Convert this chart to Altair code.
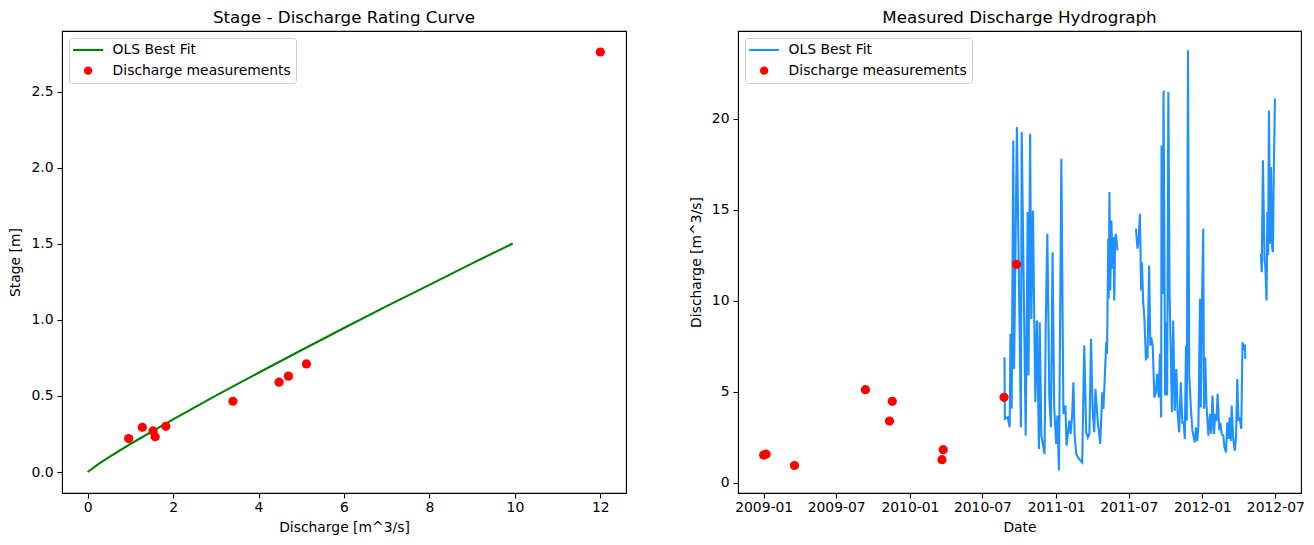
import altair as alt
import pandas as pd

# ---------------- data ----------------
# Rating curve (OLS best fit): discharge [m^3/s] vs stage [m]
fit_discharge = [0, 0.25, 0.5, 1, 2, 3, 4, 5, 6, 7, 8, 9, 9.95]
fit_stage = [0, 0.052, 0.097, 0.184, 0.346, 0.502, 0.652, 0.800, 0.946, 1.090, 1.230, 1.371, 1.502]

# Discharge measurements
meas_date = ["2009-01-01", "2009-01-07", "2009-03-19", "2009-09-12", "2009-11-11",
             "2009-11-18", "2010-03-25", "2010-03-22", "2010-08-24", "2010-09-24"]
meas_discharge = [1.53, 1.58, 0.96, 5.12, 3.40, 4.48, 1.83, 1.28, 4.70, 12.0]
meas_stage = [0.27, 0.232, 0.22, 0.71, 0.465, 0.59, 0.30, 0.294, 0.63, 2.76]

# Hydrograph (OLS best fit), days counted from base_date, three continuous segments
base_date = "2009-01-01"
seg1_day = [601, 602, 609, 614, 616, 619, 623, 625, 632, 642, 644, 654, 659, 661, 665, 668,
            672, 678, 682, 687, 689, 693, 701, 704, 708, 713, 717, 721, 725, 730, 733, 737,
            743, 748, 753, 756, 763, 766, 770, 773, 776, 780, 786, 795, 800, 805, 809, 813,
            817, 821, 825, 828, 834, 840, 845, 848, 855, 857, 860, 861, 863, 865, 868, 870,
            873, 875, 877, 879, 883]
seg1_q = [6.90, 3.52, 3.6, 3.06, 8.19, 4.07, 18.8, 6.26, 19.54, 3.06, 19.26, 2.6, 14.87, 5.9,
          19.17, 9.0, 14.96, 4.43, 8.92, 1.87, 8.82, 2.6, 1.59, 8.82, 13.68, 4.62, 3.06, 12.67,
          4.25, 2.14, 3.7, 0.68, 17.8, 3.79, 4.25, 2.05, 3.42, 2.69, 3.79, 5.53, 2.69, 1.59,
          1.35, 1.13, 7.54, 2.78, 2.5, 2.7, 7.91, 4.07, 2.78, 5.16, 3.33, 2.14, 4.98, 4.07,
          7.73, 7.09, 13.41, 10.11, 15.97, 10.57, 14.41, 11.76, 13.5, 10.02, 13.22, 13.68, 12.76]
seg2_day = [929, 933, 936, 939, 942, 944, 947, 950, 954, 958, 962, 965, 967, 971, 975, 979,
            982, 986, 989, 992, 993, 996, 998, 1002, 1004, 1007, 1010, 1013, 1019, 1022, 1026,
            1030, 1033, 1037, 1041, 1045, 1048, 1051, 1054, 1056, 1059, 1062, 1066, 1070, 1076,
            1079, 1082, 1085, 1089, 1091, 1094, 1097, 1099, 1102, 1105, 1110, 1114, 1117, 1120,
            1124, 1127, 1130, 1133, 1137, 1140, 1143, 1147, 1150, 1154, 1157, 1160, 1163, 1166,
            1168, 1172, 1176, 1179, 1182, 1185, 1188, 1192, 1195, 1198, 1201, 1202]
seg2_q = [13.96, 12.86, 13.4, 14.78, 10.57, 12.12, 10.0, 9.1, 6.81, 6.9, 11.94, 7.54, 8.0,
          7.54, 4.7, 5.0, 5.99, 4.7, 7.09, 3.6, 18.53, 10.38, 21.55, 4.8, 8.82, 4.8, 21.46,
          10.38, 3.88, 8.92, 3.97, 6.26, 3.9, 2.78, 5.53, 3.24, 3.4, 2.42, 7.54, 3.42, 23.75,
          5.99, 4.2, 2.87, 2.23, 3.06, 2.3, 3.1, 10.11, 4.15, 10.0, 13.96, 4.07, 6.9, 4.3, 2.6,
          3.79, 2.7, 4.8, 2.69, 3.79, 3.4, 4.89, 2.9, 3.3, 2.69, 2.6, 1.96, 1.68, 3.33, 2.42,
          3.6, 2.3, 4.25, 2.4, 1.77, 2.6, 5.71, 3.42, 3.6, 2.97, 7.73, 7.3, 7.6, 6.81]
seg3_day = [1241, 1243, 1246, 1250, 1252, 1255, 1257, 1259, 1261, 1264, 1266, 1269, 1271,
            1273, 1276]
seg3_q = [12.58, 11.57, 17.71, 12.21, 11.9, 10.02, 14.87, 12.5, 20.45, 13.13, 17.34, 12.9,
          12.67, 17.0, 21.1]

series_names = ["OLS Best Fit", "Discharge measurements"]

# ---------------- tables ----------------
fit_df = pd.DataFrame({"discharge": fit_discharge, "stage": fit_stage})
meas_df = pd.DataFrame({
    "date": pd.to_datetime(meas_date),
    "discharge": meas_discharge,
    "stage": meas_stage,
    "series": series_names[1],
})
flow_parts = []
for seg, (days, qs) in enumerate([(seg1_day, seg1_q), (seg2_day, seg2_q), (seg3_day, seg3_q)]):
    flow_parts.append(pd.DataFrame({
        "date": pd.Timestamp(base_date) + pd.to_timedelta(days, unit="D"),
        "discharge": qs,
        "segment": seg,
    }))
flow_df = pd.concat(flow_parts, ignore_index=True)

# ---------------- styling ----------------
FONT = "DejaVu Sans"
GREEN = "#008000"
BLUE = "#1e90ff"
RED = "#ff0000"
LINE_SYMBOL = "M-3.6,-0.25L3.6,-0.25L3.6,0.25L-3.6,0.25Z"
LABEL_SIZE = 13.9


def axis(title, values, fmt=None, title_pad=7, label_pad=2):
    kw = dict(title=title, values=values, grid=False, domain=False, ticks=True,
              tickSize=5, tickWidth=1.1, tickColor="black",
              labelFont=FONT, labelFontSize=LABEL_SIZE, labelColor="black",
              labelPadding=label_pad, titleFont=FONT, titleFontSize=LABEL_SIZE,
              titleFontWeight="normal", titleColor="black", titlePadding=title_pad)
    if fmt:
        kw["format"] = fmt
    return alt.Axis(**kw)


def legend():
    return alt.Legend(title=None, orient="top-left", offset=7, padding=5,
                      strokeColor="#cccccc", fillColor="rgba(255,255,255,0.8)",
                      cornerRadius=3, labelFont=FONT, labelFontSize=LABEL_SIZE,
                      labelColor="black", symbolSize=70, symbolOffset=7.2,
                      labelOffset=17.5, rowPadding=5.7, symbolStrokeWidth=0,
                      symbolOpacity=1, labelLimit=400)


def title(text):
    return alt.TitleParams(text, font=FONT, fontSize=16.7, fontWeight="normal",
                           color="black", offset=4, anchor="middle")


def point_layer(data, x, y, line_color):
    return alt.Chart(data).mark_point(filled=True, size=85, opacity=1).encode(
        x=x, y=y,
        color=alt.Color("series:N", scale=alt.Scale(domain=series_names, range=[line_color, RED]),
                        legend=legend()),
        shape=alt.Shape("series:N", scale=alt.Scale(domain=series_names, range=[LINE_SYMBOL, "circle"]),
                        legend=legend()),
    )


# ---------------- left: rating curve ----------------
x_left = alt.X("discharge:Q", scale=alt.Scale(domain=[-0.6, 12.6], nice=False, zero=False),
               axis=axis("Discharge [m^3/s]", [0, 2, 4, 6, 8, 10, 12]))
y_left = alt.Y("stage:Q", scale=alt.Scale(domain=[-0.138, 2.898], nice=False, zero=False),
               axis=axis("Stage [m]", [0, 0.5, 1.0, 1.5, 2.0, 2.5], ".1f", title_pad=8, label_pad=4))

left_line = alt.Chart(fit_df).mark_line(color=GREEN, strokeWidth=2.1).encode(
    x=x_left, y=y_left, order="discharge:Q")
left_pts = point_layer(meas_df, x_left, y_left, GREEN)
left = alt.layer(left_line, left_pts).properties(
    width=564, height=462, title=title("Stage - Discharge Rating Curve"))

# ---------------- right: hydrograph ----------------
tick_dates = [alt.DateTime(year=y, month=m, date=1)
              for y, m in [(2009, 1), (2009, 7), (2010, 1), (2010, 7), (2011, 1),
                           (2011, 7), (2012, 1), (2012, 7)]]
x_right = alt.X("date:T",
                scale=alt.Scale(domain=[alt.DateTime(year=2008, month=10, date=29),
                                        alt.DateTime(year=2012, month=9, date=3)], nice=False),
                axis=axis("Date", tick_dates, "%Y-%m"))
y_right = alt.Y("discharge:Q", scale=alt.Scale(domain=[-0.55, 24.81], nice=False, zero=False),
                axis=axis("Discharge [m^3/s]", [0, 5, 10, 15, 20], "d", title_pad=8, label_pad=4))

right_line = alt.Chart(flow_df).mark_line(color=BLUE, strokeWidth=2.1).encode(
    x=x_right, y=y_right, detail="segment:N")
right_pts = point_layer(meas_df, x_right, y_right, BLUE)
right = alt.layer(right_line, right_pts).properties(
    width=563, height=462, title=title("Measured Discharge Hydrograph"))

chart = alt.hconcat(left, right, spacing=61).resolve_scale(
    color="independent", shape="independent"
).resolve_legend(
    color="independent", shape="independent"
).properties(
    padding={"left": 0, "top": 1, "right": 0, "bottom": 0},
    background="white",
).configure_view(stroke="black", strokeWidth=1.1)

chart.save("out.html", embed_options={"renderer": "svg", "actions": False})
